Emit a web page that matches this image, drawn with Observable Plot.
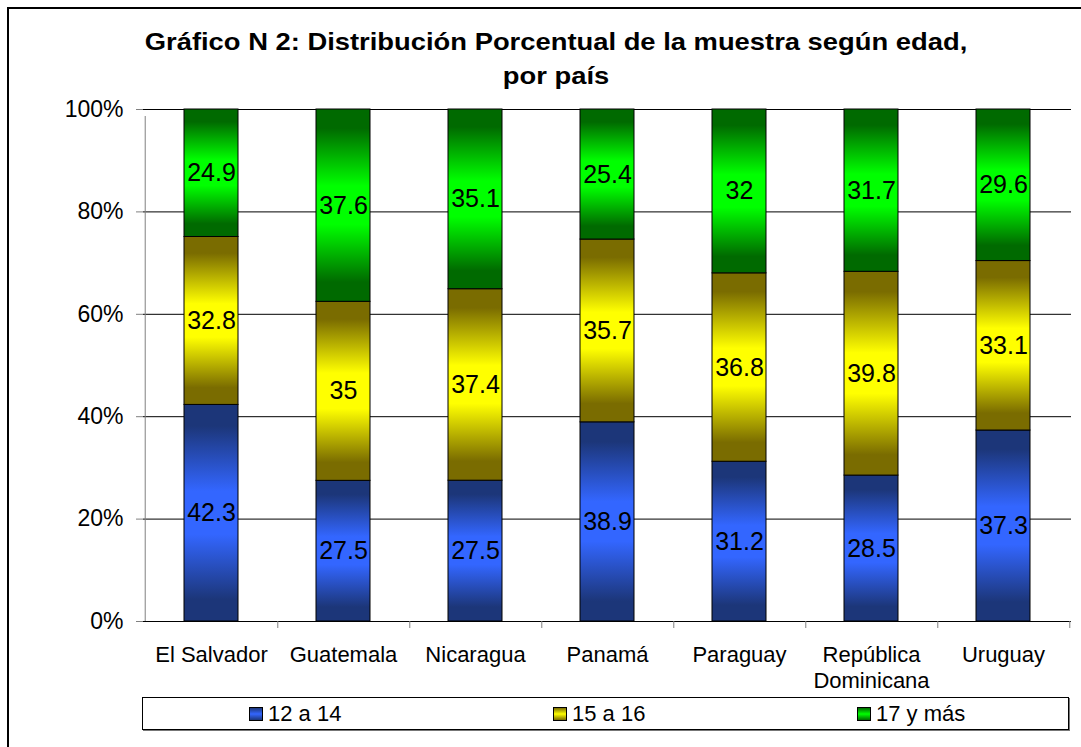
<!DOCTYPE html>
<html>
<head>
<meta charset="utf-8">
<script src="https://cdn.jsdelivr.net/npm/d3@7"></script>
<script src="https://cdn.jsdelivr.net/npm/@observablehq/plot@0.6"></script>
<style>
  html, body { margin: 0; padding: 0; background: #fff; }
  body { width: 1081px; height: 747px; position: relative; overflow: hidden; font-family: Arial, "Liberation Sans", sans-serif; }
  #frame { position: absolute; left: 7px; top: 7px; width: 1200px; height: 900px; border-left: 2px solid #000; border-top: 2px solid #000; }
  #title { position: absolute; left: 0; width: 1112px; top: 0; height: 100px; text-align: center; font-weight: bold; font-size: 24px; color: #000; transform: scaleX(1.14); transform-origin: 556px 0; }
  #title .l1 { position: absolute; left: 0; width: 100%; top: 28px; }
  #title .l2 { position: absolute; left: 0; width: 100%; top: 62px; }
  #chart { position: absolute; left: 0; top: 0; }
  #legend { position: absolute; left: 142px; top: 697px; width: 925px; height: 31px; border: 1px solid #000; box-shadow: 1px 1px 0 #777; background: #fff; }
  .item { position: absolute; top: 0; height: 31px; font-size: 22px; line-height: 31px; color: #000; white-space: nowrap; }
  .sw { position: absolute; top: 9px; width: 12px; height: 12px; border: 1px solid #000; }
  .lab { position: absolute; left: 19px; top: 0; }
</style>
</head>
<body>
<div id="frame"></div>
<div id="title"><div class="l1">Gráfico N 2: Distribución Porcentual de la muestra según edad,</div><div class="l2">por país</div></div>
<div id="chart"></div>
<div id="legend"></div>
<script>
// ---- Data ----
const countries = ["El Salvador", "Guatemala", "Nicaragua", "Panamá", "Paraguay", "República Dominicana", "Uruguay"];
const ages = ["12 a 14", "15 a 16", "17 y más"];
const v12a14 = [42.3, 27.5, 27.5, 38.9, 31.2, 28.5, 37.3];
const v15a16 = [32.8, 35, 37.4, 35.7, 36.8, 39.8, 33.1];
const v17ymas = [24.9, 37.6, 35.1, 25.4, 32, 31.7, 29.6];
const yTicks = [0, 0.2, 0.4, 0.6, 0.8, 1];

const series = [v12a14, v15a16, v17ymas];
const data = [];
countries.forEach((c, i) => {
  ages.forEach((a, j) => data.push({country: c, age: a, value: series[j][i]}));
});

// ---- Styles ----
const gradIds = ["gBlue", "gYellow", "gGreen"];
const gradColors = [["#1c3679", "#3366ff"], ["#7a6c00", "#ffff00"], ["#006a00", "#00ff00"]];

const W = 1081, H = 690;
const mL = 143, mR = 10, mT = 109, mB = H - 621;
const step = (W - mL - mR) / countries.length;

const chart = Plot.plot({
  width: W,
  height: H,
  marginLeft: mL,
  marginRight: mR,
  marginTop: mT,
  marginBottom: mB,
  style: {fontFamily: "Arial, 'Liberation Sans', sans-serif", color: "#000", background: "transparent", overflow: "visible"},
  x: {domain: countries, paddingInner: 0.59, paddingOuter: 0.295, label: null},
  y: {domain: [0, 1], label: null},
  color: {domain: ages, range: gradIds.map(id => `url(#${id})`)},
  marks: [
    Plot.gridY(yTicks, {stroke: "#000", strokeOpacity: 1, strokeWidth: 1}),
    Plot.barY(data, Plot.stackY({offset: "normalize", x: "country", y: "value", fill: "age", stroke: "#000", strokeWidth: 1})),
    Plot.text(data, Plot.stackY({offset: "normalize", x: "country", y: "value", z: "age", text: d => String(d.value), fontSize: 25, fill: "#000"})),
    // y axis line
    Plot.ruleX(countries.slice(0, 1), {x: d => d, dx: -step / 2, y1: () => 0, y2: () => 1, insetBottom: -7, stroke: "#808080", strokeWidth: 1}),
    // x axis line
    Plot.ruleY([0], {stroke: "#000", strokeWidth: 1}),
    Plot.axisY(yTicks, {tickFormat: d3.format(".0%"), tickSize: 7, tickPadding: 13, fontSize: 23, stroke: "#808080"}),
    Plot.axisX({tickSize: 0, tickPadding: 23, fontSize: 22, lineWidth: 7, lineHeight: 1.15}),
    // category boundary ticks
    Plot.ruleX(countries, {x: d => d, dx: step / 2, y1: () => 0, y2: () => 0, insetBottom: -7, stroke: "#808080", strokeWidth: 1})
  ]
});

// Add gradients
const svg = d3.select(chart);
const defs = svg.insert("defs", ":first-child");
gradIds.forEach((id, i) => {
  const [dark, bright] = gradColors[i];
  const g = defs.append("linearGradient").attr("id", id).attr("x1", 0).attr("y1", 0).attr("x2", 0).attr("y2", 1);
  [[0, dark], [0.1, dark], [0.4, bright], [0.6, bright], [0.9, dark], [1, dark]].forEach(([o, c]) => {
    g.append("stop").attr("offset", o).attr("stop-color", c);
  });
});

document.getElementById("chart").appendChild(chart);

// Legend
const legend = document.getElementById("legend");
const swX = [249, 553, 857];
ages.forEach((a, i) => {
  const [dark, bright] = gradColors[i];
  const item = document.createElement("div");
  item.className = "item";
  item.style.left = (swX[i] - 143) + "px";
  item.innerHTML = `<div class="sw" style="background: linear-gradient(to bottom, ${dark}, ${bright} 50%, ${dark})"></div><div class="lab">${a}</div>`;
  legend.appendChild(item);
});
</script>
</body>
</html>
